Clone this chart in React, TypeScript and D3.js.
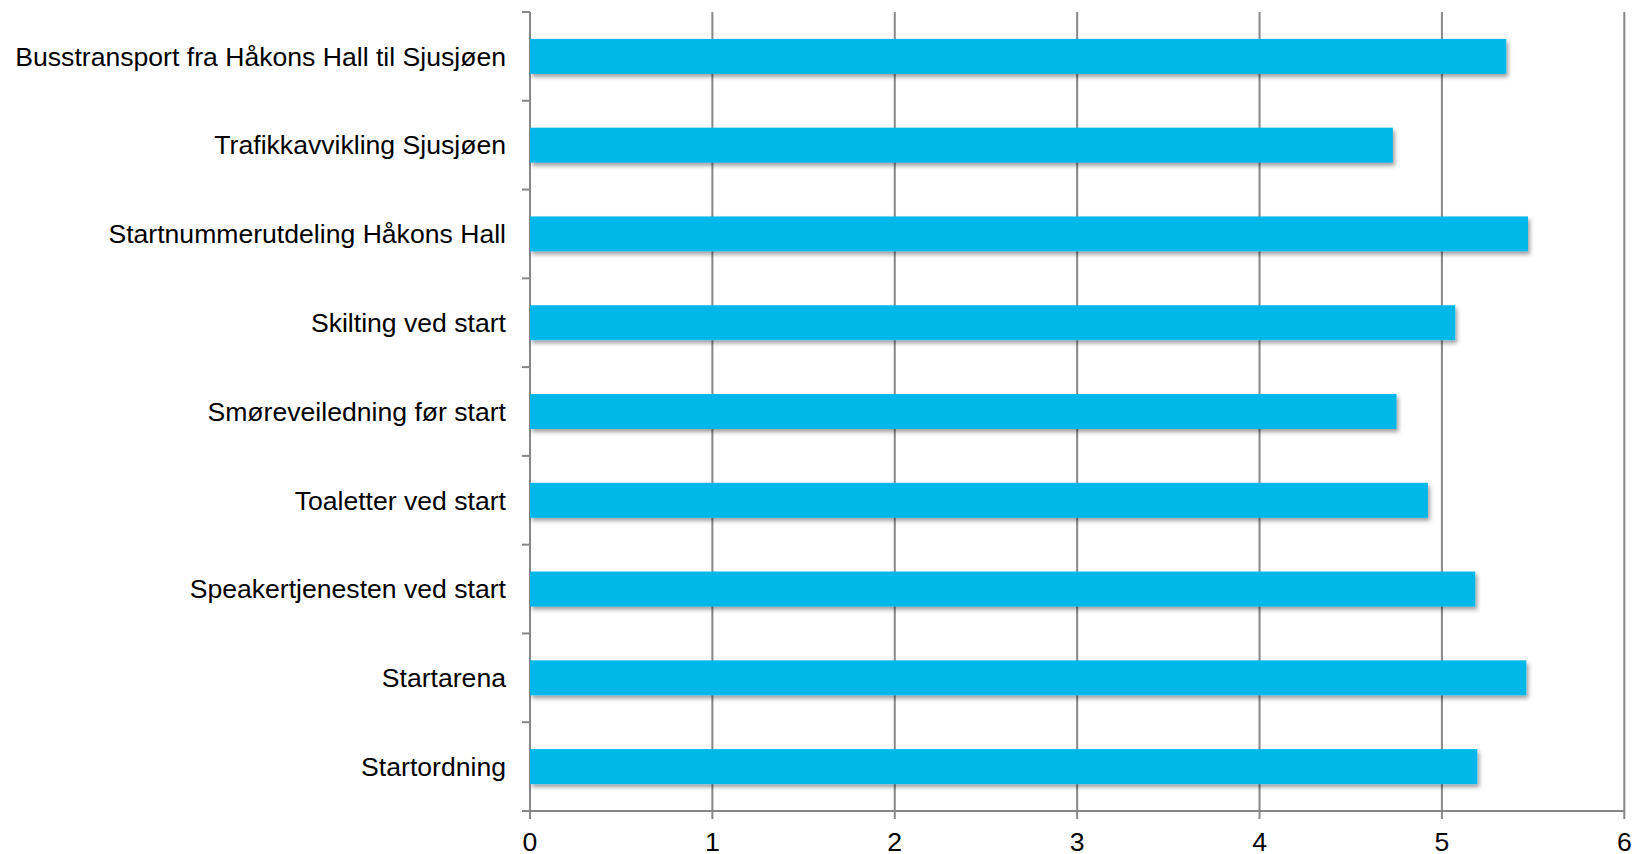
import React from "react";
import * as d3 from "d3";

const categories: string[] = [
  "Busstransport fra Håkons Hall til Sjusjøen",
  "Trafikkavvikling Sjusjøen",
  "Startnummerutdeling Håkons Hall",
  "Skilting ved start",
  "Smøreveiledning før start",
  "Toaletter ved start",
  "Speakertjenesten ved start",
  "Startarena",
  "Startordning",
];

const values: number[] = [5.353, 4.731, 5.472, 5.073, 4.751, 4.923, 5.183, 5.463, 5.194];

const xTicks: number[] = [0, 1, 2, 3, 4, 5, 6];

const W = 1634;
const H = 854;
const left = 530;
const right = 1624.3;
const top = 12;
const bottom = 811;
const font = "'Liberation Sans', Arial, Helvetica, sans-serif";
const gridColor = "#878787";
const barColor = "#00B7EA";

export default function App() {
  const x = d3.scaleLinear().domain([0, 6]).range([left, right]);
  const y = d3
    .scaleBand<string>()
    .domain(categories)
    .range([top, bottom])
    .paddingInner(0.606)
    .paddingOuter(0.303);
  const step = y.step();
  const bw = y.bandwidth();
  const boundaries = d3.range(categories.length + 1).map((i) => top + i * step);

  return (
    <svg
      width={W}
      height={H}
      style={{ position: "absolute", left: 0, top: 0, display: "block", background: "#fff" }}
    >
      <defs>
        <filter id="shadow" x="-5%" y="-30%" width="115%" height="190%">
          <feDropShadow dx="2" dy="3" stdDeviation="2.2" floodColor="#000" floodOpacity="0.38" />
        </filter>
      </defs>
      {/* vertical gridlines */}
      {xTicks.map((t) => (
        <line
          key={"g" + t}
          x1={x(t)}
          x2={x(t)}
          y1={top}
          y2={bottom + 8}
          stroke={gridColor}
          strokeWidth={2}
        />
      ))}
      {/* left axis ticks */}
      {boundaries.map((b, i) => (
        <line key={"yt" + i} x1={left - 8} x2={left} y1={b} y2={b} stroke={gridColor} strokeWidth={2} />
      ))}
      {/* bottom axis */}
      <line x1={left - 8} x2={right} y1={bottom} y2={bottom} stroke={gridColor} strokeWidth={2} />
      {/* bars */}
      {categories.map((c, i) => (
        <rect
          key={"b" + i}
          x={x(0)}
          y={y(c)}
          width={x(values[i]) - x(0)}
          height={bw}
          fill={barColor}
          filter="url(#shadow)"
        />
      ))}
      {/* category labels */}
      {categories.map((c) => (
        <text
          key={"l" + c}
          x={left - 24}
          y={(y(c) as number) + bw / 2}
          dy="0.35em"
          textAnchor="end"
          fontFamily={font}
          fontSize={26.6}
          fill="#000"
        >
          {c}
        </text>
      ))}
      {/* x tick labels */}
      {xTicks.map((t) => (
        <text
          key={"xl" + t}
          x={x(t)}
          y={851}
          textAnchor="middle"
          fontFamily={font}
          fontSize={26.6}
          fill="#000"
        >
          {t}
        </text>
      ))}
    </svg>
  );
}
